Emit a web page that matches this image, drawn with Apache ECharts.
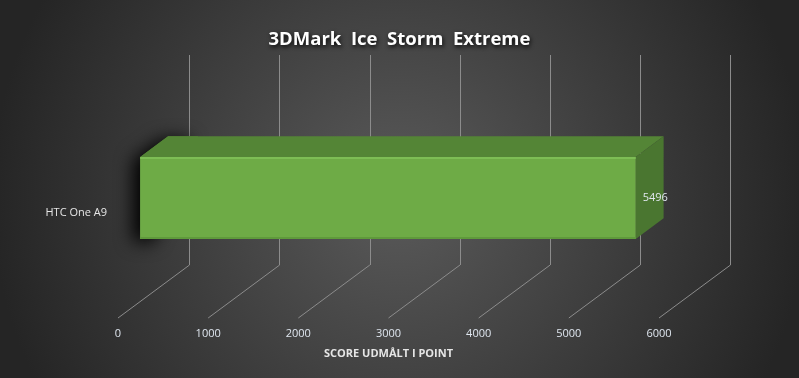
<!DOCTYPE html>
<html>
<head>
<meta charset="utf-8">
<script src="https://cdn.jsdelivr.net/npm/echarts@6/dist/echarts.min.js"></script>
<style>
  html, body { margin: 0; padding: 0; background: #333; }
  #chart { width: 799px; height: 378px; }
</style>
</head>
<body>
<div id="chart"></div>
<script>
// Data
const categories = ['HTC One A9'];
const scores = [5496];
const ticks = [0, 1000, 2000, 3000, 4000, 5000, 6000];

// Depth of the 3D box (front floor edge -> back wall), in pixels
const DEPTH_X = 71.5;
const DEPTH_Y = -53;
const FRONT_F = 0.31;   // bar front face depth fraction
const BACK_F = 0.70;    // bar back face depth fraction

const chart = echarts.init(document.getElementById('chart'));

// Floor diagonals, drawn on the back wall grid
function renderFloorLine(params, api) {
    const p = api.coord([api.value(0), 0]);
    return {
        type: 'line',
        shape: { x1: p[0], y1: p[1], x2: p[0] - DEPTH_X, y2: p[1] - DEPTH_Y },
        style: { stroke: '#8c8c8c', lineWidth: 1 },
        silent: true
    };
}

// 3D bar, drawn on the front grid
function renderBar(params, api) {
    const cat = api.value(0);
    const val = api.value(1);
    const p0 = api.coord([0, cat]);
    const p1 = api.coord([val, cat]);
    const h = 82;
    const fx = DEPTH_X * FRONT_F, fy = DEPTH_Y * FRONT_F;
    const bx = DEPTH_X * BACK_F, by = DEPTH_Y * BACK_F;
    const cy = p0[1] - 15;          // front face centre
    const top = cy - h / 2, bot = cy + h / 2;
    const xl = p0[0] + fx, xr = p1[0] + fx;
    const dbx = bx - fx, dby = by - fy;

    return {
        type: 'group',
        children: [
            {
                // shadow on the left end only
                type: 'polygon',
                shape: { points: [[xl, top], [xl + dbx, top + dby], [xl + dbx + 30, top + dby], [xl + 20, bot], [xl, bot]] },
                style: { fill: '#4e7f31', shadowBlur: 18, shadowColor: 'rgba(0,0,0,1)', shadowOffsetX: -7, shadowOffsetY: 3 }
            },
            {
                type: 'polygon',
                shape: { points: [[xl, top], [xl + dbx, top + dby], [xr + dbx, top + dby], [xr, top]] },
                style: { fill: '#548536' }
            },
            {
                type: 'polygon',
                shape: { points: [[xr, top], [xr + dbx, top + dby], [xr + dbx, bot + dby], [xr, bot]] },
                style: { fill: '#4a7630' }
            },
            {
                type: 'rect',
                shape: { x: xl, y: top, width: xr - xl, height: h },
                style: { fill: '#6eab46' }
            },
            {
                type: 'line',
                shape: { x1: xl, y1: top + 1, x2: xr, y2: top + 1 },
                style: { stroke: '#7dbd55', lineWidth: 2 }
            },
            {
                type: 'line',
                shape: { x1: xl, y1: bot - 1, x2: xr, y2: bot - 1 },
                style: { stroke: '#5f9a3b', lineWidth: 2 }
            },
            {
                type: 'text',
                style: {
                    x: xr + 7, y: cy,
                    text: String(val),
                    fill: '#e0e6ee',
                    font: '11px "Open Sans", sans-serif',
                    align: 'left',
                    verticalAlign: 'middle'
                }
            }
        ]
    };
}

const option = {
    backgroundColor: new echarts.graphic.RadialGradient(0.5, 0.52, 1.08, [
        { offset: 0, color: '#5a5a5a' },
        { offset: 1, color: '#252525' }
    ]),
    animation: false,
    title: {
        text: '3DMark  Ice  Storm  Extreme',
        left: 'center',
        top: 25,
        textStyle: {
            color: '#ffffff',
            fontSize: 18.5,
            fontWeight: 'bold',
            fontFamily: '"Open Sans", sans-serif',
            textShadowColor: 'rgba(0,0,0,0.9)',
            textShadowBlur: 4,
            textShadowOffsetX: 1,
            textShadowOffsetY: 2
        }
    },
    grid: [
        // front (floor edge) grid
        { left: 118, right: 799 - 659, top: 108, bottom: 378 - 318 },
        // back wall grid
        { left: 189.5, right: 799 - 730.5, top: 55, bottom: 378 - 265 }
    ],
    xAxis: [
        {
            gridIndex: 0,
            type: 'value',
            min: 0, max: 6000, interval: 1000,
            axisLine: { show: false },
            axisTick: { show: false },
            splitLine: { show: false },
            axisLabel: {
                color: '#dfe6ef', fontSize: 11, margin: 10,
                fontFamily: '"Open Sans", sans-serif',
                formatter: v => String(v)
            },
            name: 'SCORE UDMÅLT I POINT',
            nameLocation: 'middle',
            nameGap: 30,
            nameTextStyle: { color: '#e6e6e6', fontSize: 11, fontWeight: 'bold', fontFamily: '"Open Sans", sans-serif' }
        },
        {
            gridIndex: 1,
            type: 'value',
            min: 0, max: 6000, interval: 1000,
            axisLine: { show: false },
            axisTick: { show: false },
            axisLabel: { show: false },
            splitLine: { show: true, lineStyle: { color: '#8c8c8c', width: 1 } }
        }
    ],
    yAxis: [
        {
            gridIndex: 0,
            type: 'category',
            data: categories,
            axisLine: { show: false },
            axisTick: { show: false },
            axisLabel: { color: '#e6e6e6', fontSize: 11, margin: 11, fontFamily: '"Open Sans", sans-serif' }
        },
        {
            gridIndex: 1,
            type: 'value',
            min: 0, max: 1,
            show: false
        }
    ],
    series: [
        {
            type: 'custom',
            xAxisIndex: 1,
            yAxisIndex: 1,
            renderItem: renderFloorLine,
            data: ticks.map(t => [t]),
            z: 1
        },
        {
            type: 'custom',
            xAxisIndex: 0,
            yAxisIndex: 0,
            renderItem: renderBar,
            encode: { x: 1, y: 0 },
            data: categories.map((c, i) => [i, scores[i]]),
            z: 5
        }
    ]
};

chart.setOption(option);
</script>
</body>
</html>
